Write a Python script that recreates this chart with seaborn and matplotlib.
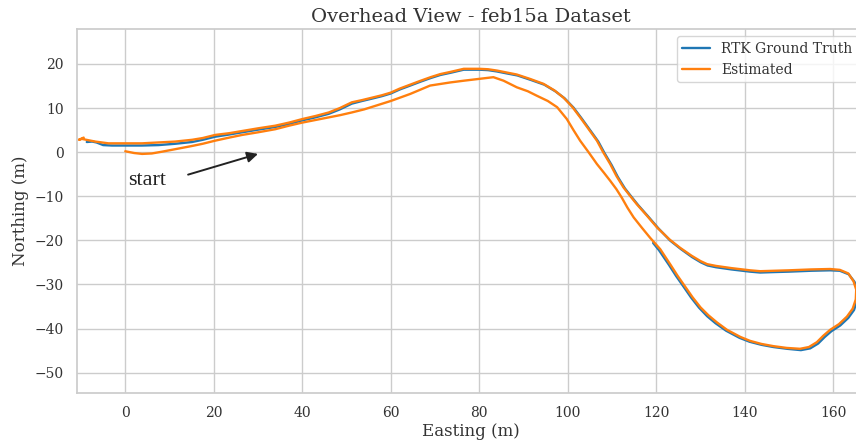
import matplotlib
matplotlib.use("Agg")
import matplotlib.pyplot as plt
import seaborn as sns
import pandas as pd

# RTK ground truth trajectory (Easting, Northing in m) - available from mid-route
gt_e = [119.3, 120.6, 122.9, 124.5, 125.9, 127.9, 129.7, 131.5, 133.4, 135.8, 138.8, 141.1,
        143.8, 146.5, 149.6, 152.7, 154.8, 156.6, 158.1, 159.6, 161.6, 163.4, 164.7, 165.4,
        165.5, 164.8, 163.5, 161.5, 159.3, 155.0, 150.0, 146.5, 143.5, 141.2, 137.0, 133.5,
        131.6, 130.1, 128.1, 125.6, 123.2, 120.5, 118.1, 115.9, 114.3, 112.9, 111.3, 109.9,
        108.3, 106.9, 104.9, 103.1, 101.3, 99.3, 97.2, 94.7, 91.6, 88.6, 86.0, 84.0, 82.0,
        80.0, 76.5, 73.5, 71.2, 69.0, 66.5, 64.4, 62.0, 60.0, 58.0, 56.0, 53.5, 51.2, 48.5,
        46.0, 43.0, 40.0, 37.0, 33.9, 30.0, 26.4, 23.5, 20.3, 17.5, 15.1, 11.3, 7.5, 3.8,
        0.0, -3.0, -5.0, -6.5, -7.5, -8.7]
gt_n = [-20.6, -22.2, -25.6, -28.1, -30.1, -33.0, -35.3, -37.2, -38.8, -40.5, -42.1, -43.0,
        -43.7, -44.2, -44.6, -44.9, -44.5, -43.4, -41.9, -40.6, -39.3, -37.6, -35.8, -33.6,
        -31.3, -29.4, -27.7, -26.9, -26.8, -26.9, -27.1, -27.2, -27.3, -27.1, -26.6, -26.1,
        -25.7, -25.0, -23.8, -22.0, -20.1, -17.3, -14.5, -12.0, -10.0, -8.2, -5.6, -2.9,
        -0.2, 2.4, 5.2, 7.7, 10.1, 12.2, 13.8, 15.3, 16.4, 17.4, 17.9, 18.3, 18.6,
        18.7, 18.7, 18.0, 17.5, 16.8, 15.9, 15.1, 14.2, 13.3, 12.7, 12.2, 11.6, 11.0, 9.7,
        8.7, 7.9, 7.2, 6.4, 5.7, 5.1, 4.5, 4.0, 3.5, 2.8, 2.3, 1.9, 1.6, 1.5,
        1.5, 1.5, 1.6, 2.2, 2.4, 2.3]

# Estimated trajectory (Easting, Northing in m)
est_e = [0.0, 2.0, 3.8, 6.0, 8.3, 11.5, 15.1, 17.5, 20.3, 23.5, 26.4, 30.0, 33.9, 37.0, 40.0,
         43.0, 46.0, 48.6, 51.2, 54.0, 56.5, 60.0, 64.4, 68.9, 73.4, 76.5, 79.8, 83.2, 85.5,
         88.5, 91.0, 93.0, 95.5, 97.6, 99.8, 101.3, 102.8, 104.7, 106.6, 108.2, 109.6, 111.0,
         112.2, 113.5, 114.9, 116.8, 118.6, 120.9, 123.2, 124.8, 126.2, 128.2, 130.0, 131.8,
         133.7, 136.0, 139.0, 141.2, 143.8, 146.5, 149.5, 152.5, 154.5, 156.3, 157.8, 159.3,
         161.3, 163.1, 164.4, 165.1, 165.2, 164.6, 163.4, 161.5, 159.3, 155.0, 150.0, 146.5,
         143.5, 141.2, 137.0, 133.5, 131.5, 130.0, 128.0, 125.4, 123.0, 120.2, 117.8, 115.6,
         114.0, 112.6, 111.0, 109.6, 108.0, 106.6, 104.6, 102.8, 101.0, 99.0, 97.0, 94.5,
         91.5, 88.5, 86.0, 84.0, 82.0, 80.0, 76.5, 73.5, 71.2, 69.0, 66.5, 64.4, 62.0, 60.0,
         58.0, 56.0, 53.5, 51.2, 48.5, 46.0, 43.0, 40.0, 37.0, 33.9, 30.0, 26.4, 23.5, 20.3,
         17.5, 15.1, 11.3, 7.5, 3.8, 0.0, -3.8, -6.8, -9.8, -10.5, -9.4]
est_n = [0.2, -0.2, -0.4, -0.3, 0.1, 0.7, 1.4, 1.9, 2.6, 3.3, 3.9, 4.5, 5.2, 6.0, 6.7,
         7.3, 7.9, 8.4, 9.0, 9.7, 10.5, 11.6, 13.2, 15.1, 15.8, 16.2, 16.6, 17.0, 16.2,
         14.7, 13.8, 12.8, 11.6, 10.2, 7.5, 5.0, 2.6, 0.0, -2.7, -4.7, -6.5, -8.4,
         -10.3, -12.6, -14.8, -17.2, -19.4, -22.0, -25.5, -28.0, -30.0, -32.9, -35.2, -37.0,
         -38.6, -40.3, -41.9, -42.8, -43.5, -44.0, -44.4, -44.6, -44.2, -43.1, -41.6, -40.3,
         -39.0, -37.3, -35.5, -33.4, -31.2, -29.3, -27.5, -26.7, -26.5, -26.6, -26.8, -26.9,
         -27.0, -26.8, -26.3, -25.8, -25.4, -24.7, -23.5, -21.7, -19.8, -17.1, -14.3, -11.8,
         -9.8, -8.0, -5.4, -2.7, 0.0, 2.6, 5.4, 7.9, 10.3, 12.4, 14.0, 15.5,
         16.6, 17.6, 18.1, 18.5, 18.8, 18.9, 18.9, 18.2, 17.7, 17.0, 16.1, 15.3, 14.4, 13.5,
         12.9, 12.4, 11.8, 11.3, 10.0, 9.0, 8.2, 7.5, 6.7, 6.0, 5.4, 4.8, 4.3, 3.9,
         3.2, 2.8, 2.4, 2.2, 2.0, 2.0, 2.0, 2.4, 3.0, 2.8, 3.3]

title = "Overhead View - feb15a Dataset"
xlabel = "Easting (m)"
ylabel = "Northing (m)"
series = ["RTK Ground Truth", "Estimated"]
start_label = "start"

sns.set_theme(style="whitegrid")
plt.rcParams['font.family'] = ['DejaVu Serif']
plt.rcParams['axes.edgecolor'] = '#cccccc'

df = pd.concat([
    pd.DataFrame({"e": gt_e, "n": gt_n, "src": series[0]}),
    pd.DataFrame({"e": est_e, "n": est_n, "src": series[1]}),
], ignore_index=True)

fig = plt.figure(figsize=(8.56, 4.48), dpi=100)
ax = fig.add_axes([0.090, 0.123, 0.9206, 0.812])
sns.lineplot(data=df, x="e", y="n", hue="src", sort=False, estimator=None,
             palette=["#1f77b4", "#ff7f0e"], linewidth=1.7, ax=ax)

ax.set_xlim(-10.9, 167.2)
ax.set_ylim(-54.6, 27.9)
ax.set_xticks([0, 20, 40, 60, 80, 100, 120, 140, 160])
ax.set_yticks([-50, -40, -30, -20, -10, 0, 10, 20])
ax.tick_params(labelsize=10, colors='#333333')
ax.set_title(title, fontsize=14, color='#333333', pad=5)
ax.set_xlabel(xlabel, fontsize=12, color='#333333', labelpad=2)
ax.set_ylabel(ylabel, fontsize=12, color='#333333')

ax.text(0.6, -7.4, start_label, fontsize=16, family='Liberation Serif',
        color='#222222', va='baseline', ha='left')
ax.annotate("", xy=(30.0, -0.4), xytext=(14.2, -5.1),
            arrowprops=dict(arrowstyle='-|>', color='#222222', lw=1.4,
                            shrinkA=0, shrinkB=0, mutation_scale=16))

leg = ax.legend(loc='upper right', fontsize=10, frameon=True)
leg.get_frame().set_edgecolor('#cccccc')
for t in leg.get_texts():
    t.set_color('#333333')

fig.savefig("out.png", dpi=100)
